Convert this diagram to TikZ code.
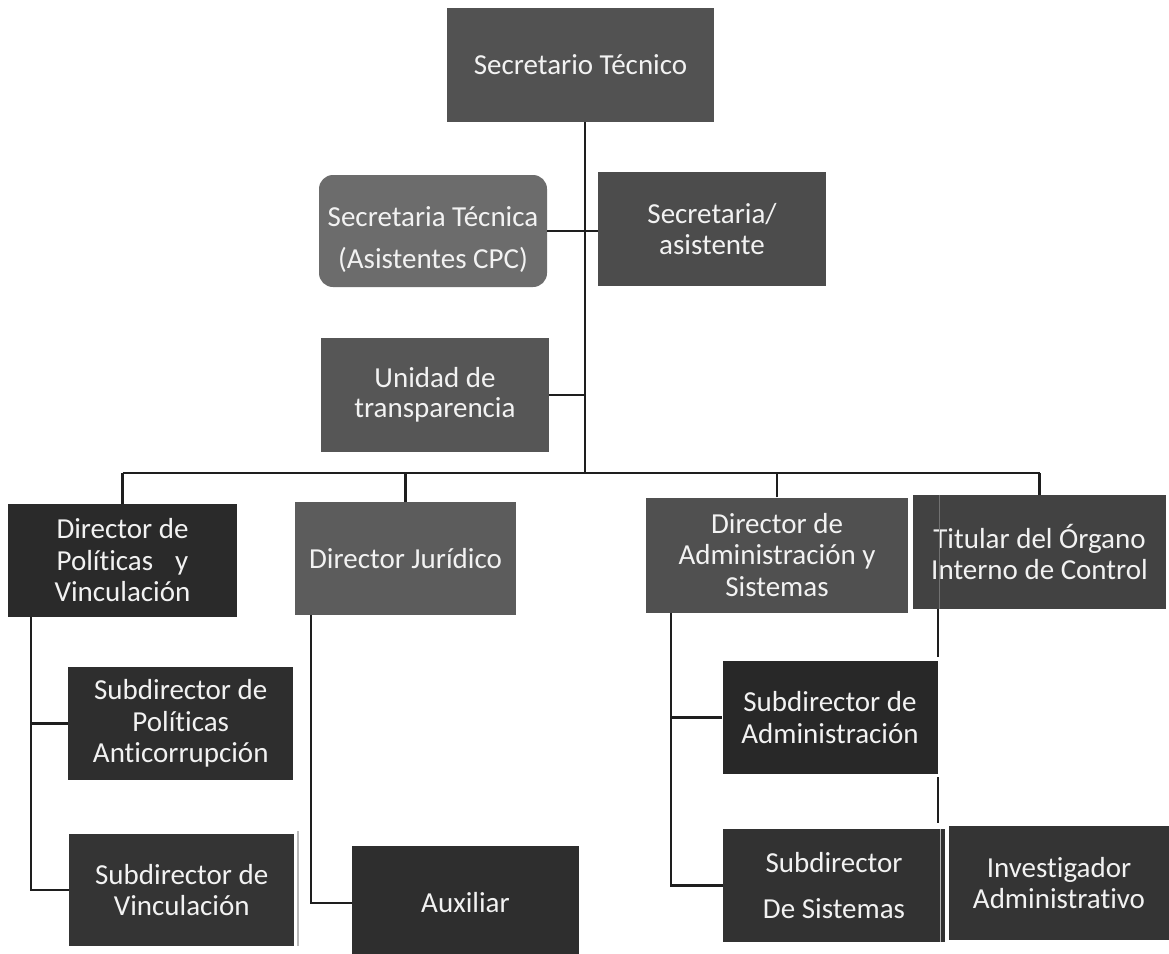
\documentclass[tikz,border=0pt]{standalone}
\usepackage{fontspec}
\setmainfont{Carlito}[Ligatures=NoCommon]
\usetikzlibrary{calc}
\definecolor{cST}{RGB}{82,82,82}
\definecolor{cSTC}{RGB}{108,108,108}
\definecolor{cSA}{RGB}{76,76,76}
\definecolor{cUT}{RGB}{86,86,86}
\definecolor{cDP}{RGB}{42,42,42}
\definecolor{cDJ}{RGB}{92,92,92}
\definecolor{cDA}{RGB}{80,80,80}
\definecolor{cTI}{RGB}{66,66,66}
\definecolor{cSP}{RGB}{46,46,46}
\definecolor{cSV}{RGB}{52,52,52}
\definecolor{cAX}{RGB}{46,46,46}
\definecolor{cSAD}{RGB}{40,40,40}
\definecolor{cSS}{RGB}{50,50,50}
\definecolor{cIA}{RGB}{52,52,52}
\definecolor{cLine}{RGB}{30,30,30}
\begin{document}
\begin{tikzpicture}[x=1pt,y=-1pt,
  box/.style={align=center, inner sep=0pt, text=white!95!black,
    font=\fontsize{29}{31.5}\selectfont},
  link/.style={draw=cLine, line width=2.2pt},
  seam/.style={draw=gray!55, line width=1.3pt},
]
\useasboundingbox[fill=white] (0,0) rectangle (1169,953);

% --- top level
\node[box, fill=cST, minimum width=267pt, minimum height=114pt] (st) at (580.5,65) {Secretario Técnico};

% --- staff units
\node[box, fill=cSTC, rounded corners=14pt, minimum width=228pt, minimum height=112pt] (stc) at (433,231) {};
\node[box] (stct) at ($(stc.center)+(0,9)$) {Secretaria Técnica\\[10.5pt](Asistentes CPC)};
\node[box, fill=cSA, minimum width=228pt, minimum height=114pt] (sa) at (712,229) {Secretaria/\\asistente};
\node[box, fill=cUT, minimum width=228pt, minimum height=114pt] (ut) at (435,395) {Unidad de\\[-2pt]transparencia};

% --- directors
\node[box, fill=cDP, minimum width=229pt, minimum height=113pt] (dp) at (122.5,560.5) {Director de\\Políticas\hspace{0.76em}y\\Vinculación};
\node[box, fill=cDJ, minimum width=221pt, minimum height=113pt] (dj) at (405.5,558.5) {Director Jurídico};
\node[box, fill=cDA, minimum width=262pt, minimum height=115pt] (da) at (777,555) {Director de\\Administración y\\Sistemas};
\node[box, fill=cTI, minimum width=253pt, minimum height=114pt] (ti) at (1039.5,552) {Titular del Órgano\\Interno de Control};

% --- subdirectors and staff
\node[box, fill=cSP, minimum width=225pt, minimum height=113pt] (sp) at (180.75,723.5) {Subdirector de\\Políticas\\Anticorrupción};
\node[box, fill=cSV, minimum width=225pt, minimum height=112pt] (sv) at (181.75,890.25) {Subdirector de\\Vinculación};
\node[box, fill=cAX, minimum width=227pt, minimum height=114pt] (ax) at (465.5,903) {Auxiliar};
\node[box, fill=cSAD, minimum width=215pt, minimum height=113pt] (sad) at (830,717.5) {Subdirector de\\Administración};
\node[box, fill=cSS, minimum width=222pt, minimum height=113pt] (ss) at (834,885.5) {Subdirector\\[14pt]De Sistemas};
\node[box, fill=cIA, minimum width=220pt, minimum height=114pt] (ia) at (1059,883) {Investigador\\Administrativo};

% --- light seams on some boxes
\draw[seam] ([xshift=-5pt]ss.north east) -- ([xshift=-5pt]ss.south east);
\draw[seam, draw=cTI!75!white, line width=1pt] ([xshift=27pt]ti.north west) -- ([xshift=27pt]ti.south west);
\draw[seam] ([xshift=3.5pt,yshift=3pt]sv.north east) -- ([xshift=3.5pt]sv.south east);

% --- trunk and staff links
\coordinate (hub) at (585,473);
\draw[link] (hub |- st.south) -- (hub);
\draw[link] (stc.east) -- (sa.west |- stc.east);
\draw[link] (ut.east) -- (hub |- ut.east);

% --- directors bar
\draw[link] (dp.north |- hub) -- (ti.north |- hub);
\foreach \n in {dp,dj,da,ti} \draw[link] (\n.north) -- (\n.north |- hub);

% --- lower branches
\coordinate (dpv) at ([xshift=23pt]dp.south west);
\draw[link] (dpv) |- (sv.west);
\draw[link] (dpv |- sp.west) -- (sp.west);

\coordinate (djv) at ([xshift=16pt]dj.south west);
\draw[link] (djv) |- (ax.west);

\coordinate (dav) at ([xshift=25.5pt]da.south west);
\draw[link] (dav) |- (ss.west);
\draw[link] (dav |- sad.west) -- (sad.west);

\coordinate (tiv) at ([xshift=25pt]ti.south west);
\draw[link, shorten >=4pt] (tiv) -- (tiv |- sad.north);
\draw[link, shorten <=3pt, shorten >=3pt] (tiv |- sad.south) -- (tiv |- ia.north);
\end{tikzpicture}
\end{document}
